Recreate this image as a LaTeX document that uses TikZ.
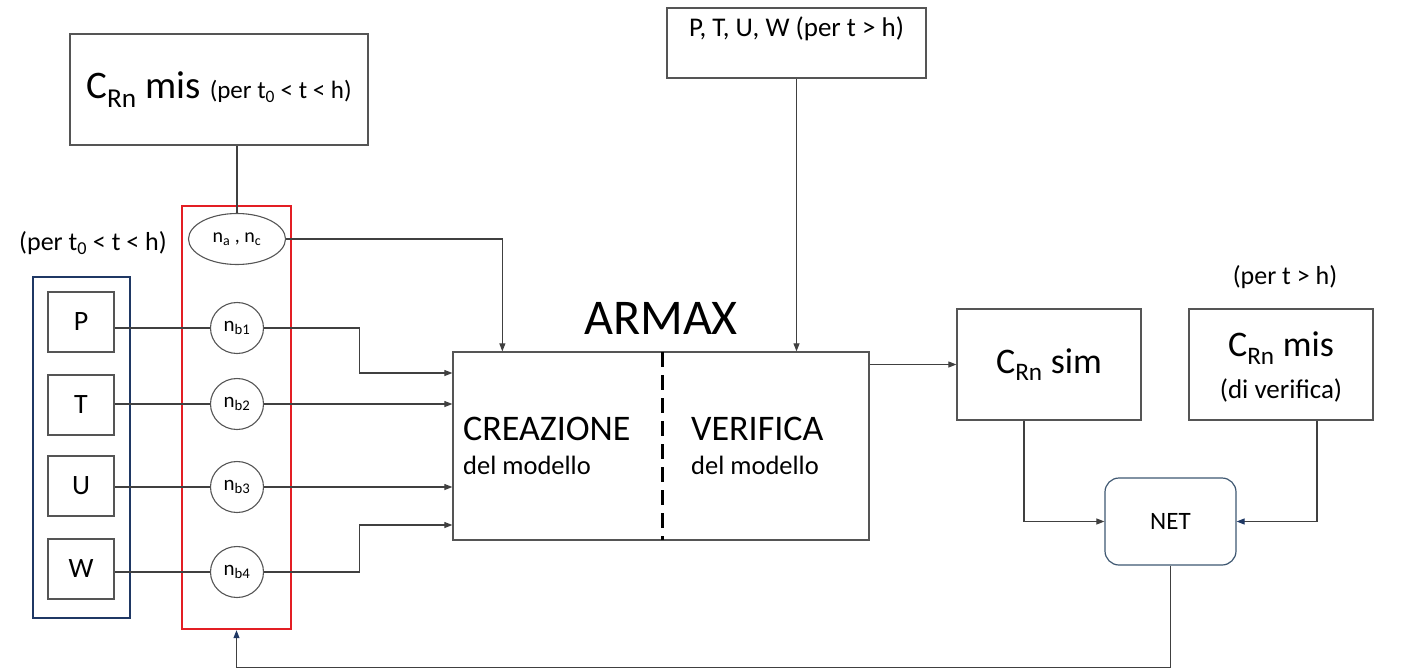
\documentclass[tikz,border=0pt]{standalone}
\usepackage{fontspec}
\setmainfont{Carlito}
\usetikzlibrary{arrows.meta,shapes.geometric,calc}
\definecolor{lc}{HTML}{404040}
\definecolor{bc}{HTML}{555555}
\definecolor{redb}{HTML}{E31E24}
\definecolor{navyb}{HTML}{1F3864}
\definecolor{netc}{HTML}{3E5771}
\newcommand\myfs[2]{\fontsize{#1}{#2}\selectfont}
\begin{document}
\begin{tikzpicture}[x=1pt,y=-1pt,
  box/.style={draw=bc, line width=1.3pt, rectangle, inner sep=0pt, align=center},
  arr/.style={draw=lc, line width=1.1pt, -{Triangle[length=8pt,width=6pt]}},
  ln/.style={draw=lc, line width=1.1pt},
  ell/.style={draw=bc, line width=1.1pt, ellipse, inner sep=0pt},
  txt/.style={inner sep=0pt}]
\useasboundingbox (0,0) rectangle (1417,672);

% top-left box
\node[box, minimum width=298pt, minimum height=111pt, font=\myfs{39}{45}] (crnmis) at (219,89.5)
  {C\textsubscript{Rn} mis {\myfs{25}{29}(per t\textsubscript{0} < t < h)}};

% red and blue frames
\node[draw=redb, line width=2.4pt, minimum width=109pt, minimum height=423pt, inner sep=0pt] (redbox) at (236.5,417.5) {};
\node[draw=navyb, line width=2pt, minimum width=97pt, minimum height=341pt, inner sep=0pt] (bluebox) at (81.5,447.5) {};

\node[txt, font=\myfs{26}{30}] (lbl1) at (93,243) {(per t\textsubscript{0} < t < h)};

% inputs
\node[box, minimum width=66pt, minimum height=60pt, font=\myfs{28}{32}] (P) at (81,322) {P};
\node[box, minimum width=66pt, minimum height=60pt, font=\myfs{28}{32}] (T) at (81,405) {T};
\node[box, minimum width=66pt, minimum height=60pt, font=\myfs{28}{32}] (U) at (81,486) {U};
\node[box, minimum width=66pt, minimum height=60pt, font=\myfs{28}{32}] (W) at (81,569) {W};

% orders
\node[ell, minimum width=97pt, minimum height=51pt, font=\myfs{20}{24}] (nanc) at (237,239) {n\textsubscript{a} , n\textsubscript{c}};
\node[ell, minimum width=53pt, minimum height=51pt, font=\myfs{21}{25}] (nb1) at (237,328) {n\textsubscript{b1}};
\node[ell, minimum width=53pt, minimum height=51pt, font=\myfs{21}{25}] (nb2) at (237,404) {n\textsubscript{b2}};
\node[ell, minimum width=53pt, minimum height=51pt, font=\myfs{21}{25}] (nb3) at (237,487) {n\textsubscript{b3}};
\node[ell, minimum width=53pt, minimum height=51pt, font=\myfs{21}{25}] (nb4) at (237,572) {n\textsubscript{b4}};

% ARMAX
\node[box, minimum width=416pt, minimum height=188pt] (armax) at (661,446) {};
\node[txt, font=\myfs{50}{56}] (armaxlbl) at (661,318) {ARMAX};
\coordinate (divtop) at (662,352);
\coordinate (divbot) at (662,540);
\draw[black, line width=3pt, dash pattern=on 15pt off 8pt] (divtop) -- (divbot);
\node[txt, anchor=base west, font=\myfs{36}{42}] (crea) at (463,440) {CREAZIONE};
\node[txt, anchor=base west, font=\myfs{26.5}{31}] (crea2) at (463,474) {del modello};
\node[txt, anchor=base west, font=\myfs{36}{42}] (veri) at (691,440) {VERIFICA};
\node[txt, anchor=base west, font=\myfs{26.5}{31}] (veri2) at (691,474) {del modello};

% top-right box
\node[box, minimum width=259pt, minimum height=70pt] (ptuw) at (796.5,43) {};
\node[txt, font=\myfs{27}{31}] (ptuwlbl) at (796.5,29) {P, T, U, W (per t > h)};

% outputs
\node[box, minimum width=184pt, minimum height=111pt, font=\myfs{36}{42}] (sim) at (1049,364.5) {C\textsubscript{Rn} sim};
\node[box, minimum width=184pt, minimum height=111pt] (mis) at (1281,364.5) {};
\node[txt, font=\myfs{36}{40}] (mis1) at (1281,348) {C\textsubscript{Rn} mis};
\node[txt, font=\myfs{27}{31}] (mis2) at (1281,390) {(di verifica)};
\node[txt, font=\myfs{26}{30}] (lbl2) at (1285,277) {(per t > h)};

\node[draw=netc, line width=1.2pt, rounded corners=14pt, minimum width=131pt, minimum height=87pt, font=\myfs{25}{29}] (net) at (1170.5,521.5) {NET};

% connectors
\draw[ln] (crnmis.south -| nanc.north) -- (nanc.north);
\draw[ln] (P.east |- nb1) -- (nb1.west);
\draw[ln] (T.east |- nb2) -- (nb2.west);
\draw[ln] (U.east |- nb3) -- (nb3.west);
\draw[ln] (W.east |- nb4) -- (nb4.west);

\draw[arr] (nanc.east) -| ([xshift=50pt]armax.north west);
\draw[arr] (nb1.east) -- ++(95,0) |- ([yshift=73pt]armax.west);
\draw[arr] (nb2.east) -- (nb2.east -| armax.west);
\draw[arr] (nb3.east) -- (nb3.east -| armax.west);
\draw[arr] (nb4.east) -- ++(95,0) |- ([yshift=-79pt]armax.west);

\draw[arr] (ptuw.south) -- (ptuw.south |- armax.north);
\draw[arr] (armax.east |- sim.west) -- (sim.west);

\draw[arr] ([xshift=-25pt]sim.south) |- (net.west);
\draw[draw=lc, line width=1.1pt, -{Triangle[length=8pt,width=6pt,color=navyb]}] ([xshift=36pt]mis.south) |- (net.east);
\draw[draw=lc, line width=1.1pt, -{Triangle[length=8pt,width=6pt,color=navyb]}] (net.south) -- ++(0,102) -| (redbox.south);
\end{tikzpicture}
\end{document}
